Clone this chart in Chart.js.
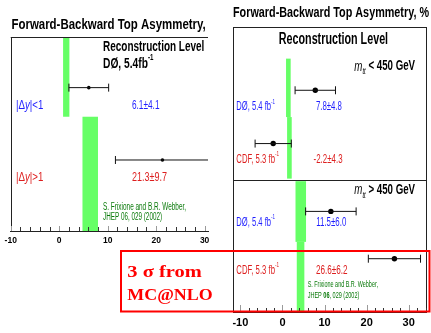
<!DOCTYPE html>
<html>
<head>
<meta charset="utf-8">
<script src="https://cdn.jsdelivr.net/npm/chart.js@4.4.1/dist/chart.umd.min.js"></script>
<style>
  html, body { margin: 0; padding: 0; background: #fff; }
  #wrap { position: relative; width: 431px; height: 333px; overflow: hidden; }
  canvas { position: absolute; left: 0; top: 0; }
</style>
</head>
<body>
<div id="wrap">
  <canvas id="dyChart" width="431" height="333"></canvas>
  <canvas id="mttChart" width="431" height="333"></canvas>
</div>
<script>
// ---------------- data ----------------
// A_FB vs rapidity difference (DØ, 5.4 fb^-1), in %
const dyBins = ['|Δy|<1', '|Δy|>1'];
const dyAfb = [6.1, 21.3];
const dyErr = [4.1, 9.7];
const dyNloLo = [0.8, 4.8];     // MC@NLO prediction band
const dyNloHi = [2.1, 8.0];

// A_FB vs m_tt (DØ and CDF), in %
const mttBins = ['<', '>'];
const mttExperiments = ['DØ, 5.4 fb', 'CDF, 5.3 fb', 'DØ, 5.4 fb', 'CDF, 5.3 fb'];
const mttAfb = [7.8, -2.2, 11.5, 26.6];
const mttErr = [4.8, 4.3, 6.0, 6.2];
const mttNloLo = [0.85, 1.1, 3.1, 3.4];
const mttNloHi = [1.95, 2.2, 5.6, 5.2];

const tickLabels = [-10, 0, 10, 20, 30];

// ---------------- layout ----------------
// Vertical placement inside each panel uses a hidden 0..10 scale (top to bottom).
const dyRows = { point: [2.61, 6.34], band: [[0, 4.11], [4.11, 10]], label: [3.52, 7.23] };
const mttRows = {
  point: [2.22, 4.09, 6.47, 8.13],
  band: [[1.11, 3.16], [3.16, 5.32], [5.41, 7.54], [7.54, 10]],
  label: [2.81, 4.65, 6.86, 8.54],
  binLabel: [1.38, 5.73],
  split: 5.38
};

const SANS = '"Liberation Sans", Arial, Helvetica, sans-serif';
const SERIF = '"Liberation Serif", "Times New Roman", serif';
const BLUE = '#1f1fff';
const RED = '#dd1f1f';
const DKGREEN = '#0b7a0b';
const BAND = 'rgb(102,255,102)';

function fontAvailable(name) {
  const c = document.createElement('canvas').getContext('2d');
  const s = 'abcdefghijklmnopqrstuvwxyz0123456789';
  c.font = '20px monospace';
  const a = c.measureText(s).width;
  c.font = '20px "' + name + '", monospace';
  return c.measureText(s).width !== a;
}
const NARROW = fontAvailable('Liberation Sans Narrow');
const tickFontDy = NARROW ? { family: '"Liberation Sans Narrow"', size: 10, weight: 'bold' } : { family: SANS, size: 8.5, weight: 'bold' };
const tickFontMtt = NARROW ? { family: '"Liberation Sans Narrow"', size: 13, weight: 'bold' } : { family: SANS, size: 11, weight: 'bold' };
const tickPadDy = 9.7 - tickFontDy.size * 0.6;
const tickPadMtt = 11 - tickFontMtt.size * 0.6;

// Draws a run of text segments squeezed/stretched to a given width.
function drawText(ctx, segs, x, y, base, width) {
  const parts = segs.map(s => {
    const size = (s.scale || 1) * base.size;
    const font = (s.style || base.style || 'normal') + ' ' + (s.weight || base.weight || 'normal') + ' ' +
      size + 'px ' + (s.family || base.family || SANS);
    ctx.font = font;
    return { t: s.t, font, w: ctx.measureText(s.t).width, dy: (s.shift || 0) * base.size };
  });
  const total = parts.reduce((a, p) => a + p.w, 0);
  const sx = width ? width / total : 1;
  const w = width || total;
  ctx.save();
  ctx.fillStyle = base.color || '#000';
  ctx.textBaseline = 'middle';
  ctx.textAlign = 'left';
  let x0 = x;
  if (base.align === 'center') x0 = x - w / 2;
  if (base.align === 'right') x0 = x - w;
  ctx.translate(x0, y);
  ctx.scale(sx, 1);
  let cx = 0;
  for (const p of parts) { ctx.font = p.font; ctx.fillText(p.t, cx, p.dy); cx += p.w; }
  ctx.restore();
}
const T = (t, o) => Object.assign({ t }, o || {});
const SUP = t => T(t, { scale: 0.6, shift: -0.42 });
const valueText = (v, e) => v.toFixed(1) + '±' + e.toFixed(1);
const dyText = b => [T('|Δ'), T('y', { style: 'italic' }), T(b.slice(3))];
const mttText = op => [T('m', { style: 'italic', weight: 'normal' }), T('tt', { style: 'italic', weight: 'normal', scale: 0.6, shift: 0.35 }), T(' ' + op + ' 450 GeV')];

function errorBarSets(vals, errs, ys, capR) {
  return vals.map((v, i) => ({
    data: [{ x: v - errs[i], y: ys[i] }, { x: v + errs[i], y: ys[i] }],
    showLine: true, borderColor: '#111', borderWidth: 1,
    pointStyle: 'line', pointRotation: 90, pointRadius: capR, pointHoverRadius: capR,
    pointBorderColor: '#111', pointBorderWidth: 1, clip: 0
  }));
}
function pointSet(vals, ys, r) {
  return {
    data: vals.map((v, i) => ({ x: v, y: ys[i] })),
    showLine: false, pointRadius: r, pointHoverRadius: r,
    pointBackgroundColor: '#000', pointBorderColor: '#000', pointBorderWidth: 0
  };
}
function xScale(min, max, font, pad) {
  return {
    type: 'linear', min, max, position: 'bottom',
    afterFit: s => { s.height = 20; },
    ticks: {
      stepSize: 2, includeBounds: false, autoSkip: false, maxRotation: 0, minRotation: 0,
      padding: pad, color: '#000', font,
      callback: v => tickLabels.includes(v) ? String(v) : ''
    },
    grid: { drawOnChartArea: false, drawTicks: false },
    border: { display: true, color: '#222', width: 1 }
  };
}
function drawBands(chart, lo, hi, rows) {
  const { ctx, chartArea: a } = chart;
  const xs = chart.scales.x, ys = chart.scales.y;
  ctx.save();
  ctx.beginPath(); ctx.rect(a.left, a.top, a.right - a.left, a.bottom - a.top); ctx.clip();
  ctx.fillStyle = BAND;
  lo.forEach((l, i) => {
    const x0 = xs.getPixelForValue(l), x1 = xs.getPixelForValue(hi[i]);
    const y0 = ys.getPixelForValue(rows[i][0]), y1 = ys.getPixelForValue(rows[i][1]);
    ctx.fillRect(x0, y0, x1 - x0, y1 - y0);
  });
  ctx.restore();
}
function drawInnerTicks(chart, majorLen, minorLen) {
  const { ctx, chartArea: a } = chart;
  const xs = chart.scales.x;
  ctx.save();
  ctx.lineWidth = 1;
  xs.ticks.forEach(t => {
    const major = tickLabels.includes(t.value);
    const px = Math.round(xs.getPixelForValue(t.value)) + 0.5;
    ctx.strokeStyle = major ? '#9a9a9a' : '#333';
    ctx.beginPath();
    ctx.moveTo(px, a.bottom);
    ctx.lineTo(px, a.bottom - (major ? majorLen : minorLen));
    ctx.stroke();
  });
  ctx.restore();
}
function hLine(ctx, x0, x1, y) { ctx.beginPath(); ctx.moveTo(x0, Math.round(y) + 0.5); ctx.lineTo(x1, Math.round(y) + 0.5); ctx.stroke(); }
function vLine(ctx, x, y0, y1) { ctx.beginPath(); ctx.moveTo(Math.round(x) + 0.5, y0); ctx.lineTo(Math.round(x) + 0.5, y1); ctx.stroke(); }

const common = {
  responsive: false, animation: false, devicePixelRatio: 1, events: [],
  plugins: { legend: { display: false }, tooltip: { enabled: false } }
};

// ---------------- left panel: |Δy| ----------------
new Chart(document.getElementById('dyChart'), {
  type: 'scatter',
  data: { datasets: [...errorBarSets(dyAfb, dyErr, dyRows.point, 4), pointSet(dyAfb, dyRows.point, 1.8)] },
  options: Object.assign({}, common, {
    layout: { padding: { left: 10, right: 223, top: 37, bottom: 82 } },
    scales: {
      x: xScale(-10, 30.7, tickFontDy, tickPadDy),
      y: { type: 'linear', min: 0, max: 10, reverse: true, display: false }
    }
  }),
  plugins: [{
    id: 'dyPanel',
    beforeDatasetsDraw(chart) { drawBands(chart, dyNloLo, dyNloHi, dyRows.band); },
    afterDatasetsDraw(chart) {
      const { ctx, chartArea: a } = chart;
      ctx.save(); ctx.strokeStyle = '#222'; ctx.lineWidth = 1;
      hLine(ctx, a.left, a.right, a.top);
      vLine(ctx, a.left, a.top, a.bottom);
      ctx.restore();
      drawInnerTicks(chart, 5, 4);
    },
    afterDraw(chart) {
      const { ctx, chartArea: a } = chart;
      const X = v => chart.scales.x.getPixelForValue(v), Y = v => chart.scales.y.getPixelForValue(v);
      drawText(ctx, [T('Forward-Backward Top Asymmetry,')], a.left + 0.7, a.top - 12, { size: 15, weight: 'bold' }, 194.3);
      drawText(ctx, [T('Reconstruction Level')], X(9.04), Y(0.5), { size: 14.5, weight: 'bold' }, 101.3);
      drawText(ctx, [T('DØ, 5.4fb'), SUP('-1')], X(9.04), Y(1.39), { size: 14.5, weight: 'bold' }, 50.3);
      const colors = [BLUE, RED];
      const valW = [27.6, 35];
      dyBins.forEach((b, i) => {
        drawText(ctx, dyText(b), X(-8.92), Y(dyRows.label[i]), { size: 13, color: colors[i] }, 27.4);
        drawText(ctx, [T(valueText(dyAfb[i], dyErr[i]))], X(15.0), Y(dyRows.label[i]), { size: 13, color: colors[i] }, valW[i]);
      });
      drawText(ctx, [T('S. Frixione and B.R. Webber,')], X(9.04), Y(8.75), { size: 10, color: DKGREEN }, 83);
      drawText(ctx, [T('JHEP 06, 029 (2002)')], X(9.04), Y(9.31), { size: 10, color: DKGREEN }, 59);
    }
  }]
});

// ---------------- right panel: m_tt ----------------
new Chart(document.getElementById('mttChart'), {
  type: 'scatter',
  data: { datasets: [...errorBarSets(mttAfb, mttErr, mttRows.point, 4), pointSet(mttAfb, mttRows.point, 2.7)] },
  options: Object.assign({}, common, {
    layout: { padding: { left: 233, right: 4, top: 27, bottom: 1 } },
    scales: {
      x: xScale(-11.75, 34.1, tickFontMtt, tickPadMtt),
      y: { type: 'linear', min: 0, max: 10, reverse: true, display: false }
    }
  }),
  plugins: [{
    id: 'mttPanel',
    beforeDatasetsDraw(chart) { drawBands(chart, mttNloLo, mttNloHi, mttRows.band); },
    afterDatasetsDraw(chart) {
      const { ctx, chartArea: a } = chart;
      const ys = chart.scales.y;
      ctx.save(); ctx.strokeStyle = '#222'; ctx.lineWidth = 1;
      hLine(ctx, a.left, a.right, a.top);
      vLine(ctx, a.left, a.top, a.bottom);
      vLine(ctx, a.right, a.top, a.bottom);
      hLine(ctx, a.left, a.right, ys.getPixelForValue(mttRows.split));
      ctx.restore();
      drawInnerTicks(chart, 7, 4);
    },
    afterDraw(chart) {
      const { ctx, chartArea: a } = chart;
      const X = v => chart.scales.x.getPixelForValue(v), Y = v => chart.scales.y.getPixelForValue(v);
      drawText(ctx, [T('Forward-Backward Top Asymmetry, %')], a.left, 13.3, { size: 15, weight: 'bold' }, 196);
      drawText(ctx, [T('Reconstruction Level')], X(-0.87), Y(0.44), { size: 16, weight: 'bold' }, 109.3);
      mttBins.forEach((op, k) => {
        drawText(ctx, mttText(op), X(17.08), Y(mttRows.binLabel[k]), { size: 15, weight: 'bold' }, 60.7);
      });
      const colors = [BLUE, RED, BLUE, RED];
      const expW = [38.7, 42.7, 38.7, 42.7];
      const valX = [7.94, 7.39, 8.03, 7.94];
      const valW = [26, 29, 30, 31.7];
      mttExperiments.forEach((e, i) => {
        drawText(ctx, [T(e), SUP('-1')], X(-10.96), Y(mttRows.label[i]), { size: 12, color: colors[i] }, expW[i]);
        drawText(ctx, [T(valueText(mttAfb[i], mttErr[i]))], X(valX[i]), Y(mttRows.label[i]), { size: 12, color: colors[i] }, valW[i]);
      });
      drawText(ctx, [T('S. Frixione and B.R. Webber,')], X(5.98), Y(9.04), { size: 9, color: DKGREEN }, 70.3);
      drawText(ctx, [T('JHEP '), T('06', { weight: 'bold' }), T(', 029 (2002)')], X(5.98), Y(9.41), { size: 9, color: DKGREEN }, 51.7);

      // highlighted note
      ctx.save();
      ctx.strokeStyle = '#ff0000'; ctx.lineWidth = 2;
      ctx.strokeRect(121, 251, 308.5, 60.5);
      ctx.restore();
      drawText(ctx, [T('3 σ from')], 127.3, 272.7, { size: 17, weight: 'bold', family: SERIF, color: '#ff0000' }, 74.4);
      drawText(ctx, [T('MC@NLO')], 127.3, 296, { size: 17, weight: 'bold', family: SERIF, color: '#ff0000' }, 85.4);
    }
  }]
});
</script>
</body>
</html>
